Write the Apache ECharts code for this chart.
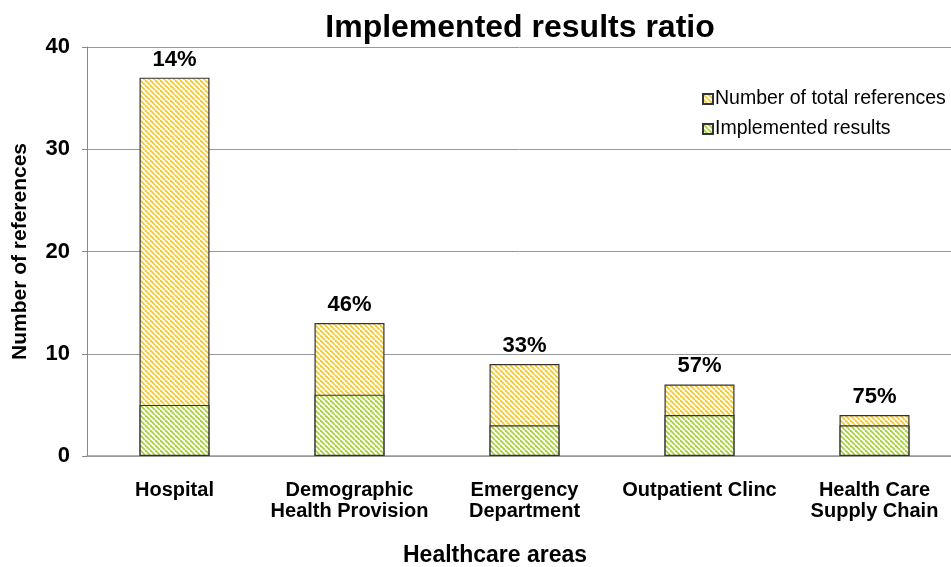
<!DOCTYPE html>
<html>
<head>
<meta charset="utf-8">
<script src="https://cdn.jsdelivr.net/npm/echarts@6/dist/echarts.min.js"></script>
<style>html,body{margin:0;padding:0;background:#fff}#c{width:951px;height:567px}</style>
</head>
<body>
<div id="c"></div>
<script>
const categories = ['Hospital', 'Demographic\nHealth Provision', 'Emergency\nDepartment', 'Outpatient Clinc', 'Health Care\nSupply Chain'];
const totalRefs = [37, 13, 9, 7, 4];
const implemented = [5, 6, 3, 4, 3];
const ratioLabels = ['14%', '46%', '33%', '57%', '75%'];
const yTicks = [0, 10, 20, 30, 40];

function hatch(fg) {
  const s = 5;
  const c = document.createElement('canvas');
  c.width = s; c.height = s;
  const g = c.getContext('2d');
  g.fillStyle = '#ffffff';
  g.fillRect(0, 0, s, s);
  g.strokeStyle = fg;
  g.lineWidth = 1.8;
  for (let o = -s; o <= s; o += s) {
    g.beginPath();
    g.moveTo(o, 0);
    g.lineTo(o + s, s);
    g.stroke();
  }
  return c;
}
const yellow = { image: hatch('#f7c930'), repeat: 'repeat' };
const green = { image: hatch('#a9d33c'), repeat: 'repeat' };

const font = 'Liberation Sans, Arial, sans-serif';
const chart = echarts.init(document.getElementById('c'));
chart.setOption({
  animation: false,
  title: {
    text: 'Implemented results ratio',
    left: 515, top: 7, textAlign: 'center',
    textStyle: { fontFamily: font, fontSize: 32, fontWeight: 'bold', color: '#000' }
  },
  legend: {
    orient: 'vertical',
    left: 697, top: 84,
    itemWidth: 10, itemHeight: 10, itemGap: 10,
    icon: 'rect',
    textStyle: { fontFamily: font, fontSize: 19.5, color: '#000', padding: [0, 0, 0, -3] },
    data: ['Number of total references', 'Implemented results']
  },
  graphic: [{
    type: 'text',
    left: 403, top: 544,
    style: { text: 'Healthcare areas', fontFamily: font, fontSize: 23, fontWeight: 'bold', fill: '#000' }
  }],
  grid: { left: 87, right: -11, top: 47, bottom: 111, outerBoundsMode: 'none', containLabel: false },
  xAxis: {
    type: 'category',
    data: categories,
    axisLine: { lineStyle: { color: '#999', width: 1.5 } },
    axisTick: { show: false },
    axisLabel: { interval: 0, fontFamily: font, fontSize: 20, fontWeight: 'bold', color: '#000', margin: 24, lineHeight: 21 }
  },
  yAxis: {
    type: 'value',
    min: 0, max: 40, interval: 10,
    name: 'Number of references',
    nameLocation: 'middle',
    nameGap: 56,
    nameTextStyle: { fontFamily: font, fontSize: 21, fontWeight: 'bold', color: '#000' },
    axisLine: { show: true, lineStyle: { color: '#888' } },
    axisTick: { show: true, length: 5, lineStyle: { color: '#888' } },
    splitLine: { lineStyle: { color: '#999' } },
    axisLabel: { fontFamily: font, fontSize: 22, fontWeight: 'bold', color: '#000', margin: 17,
      formatter: v => yTicks.includes(v) ? String(v) : '' }
  },
  series: [
    {
      name: 'Number of total references',
      type: 'bar',
      data: totalRefs,
      barWidth: 70,
      barGap: '-100%',
      z: 2,
      itemStyle: { color: yellow, borderColor: '#333', borderWidth: 1.2 },
      label: {
        show: true, position: 'top', distance: 7,
        formatter: p => ratioLabels[p.dataIndex],
        fontFamily: font, fontSize: 22, fontWeight: 'bold', color: '#000'
      }
    },
    {
      name: 'Implemented results',
      type: 'bar',
      data: implemented,
      barWidth: 70,
      barGap: '-100%',
      z: 3,
      itemStyle: { color: green, borderColor: '#333', borderWidth: 1.2 }
    }
  ]
});
</script>
</body>
</html>
